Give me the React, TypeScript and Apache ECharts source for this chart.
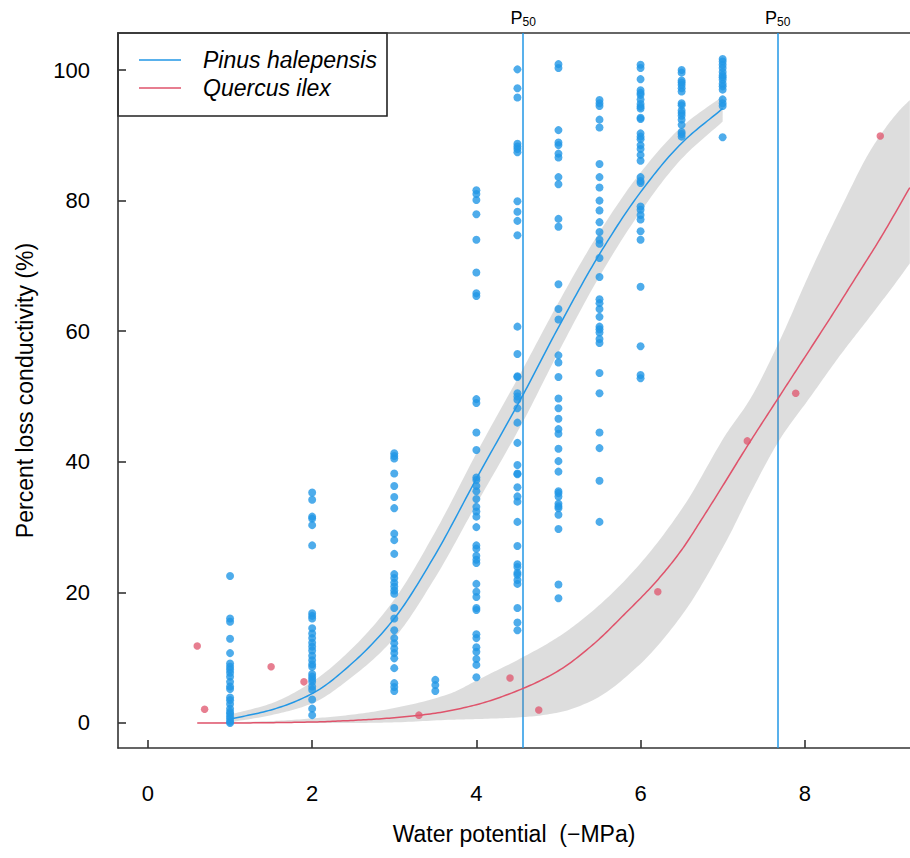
import React, { useEffect, useRef } from "react";
import * as echarts from "echarts";

const BLUE = "#2297E6";
const RED = "#DF536B";
const BAND = "rgba(128,128,128,0.27)";
const FONT = "'Liberation Sans', Arial, Helvetica, sans-serif";

const xTicks = [0, 2, 4, 6, 8];
const yTicks = [0, 20, 40, 60, 80, 100];

// Pinus halepensis observations: water potential (-MPa) columns and PLC (%) values
const pinusWP = [1, 2, 3, 3.5, 4, 4.5, 5, 5.5, 6, 6.5, 7];
const pinusAt1 = [22.5, 16.0, 15.5, 12.9, 10.7, 9.1, 8.6, 8.2, 7.7, 7.1, 6.3, 5.6, 5.2, 3.9, 3.5, 2.9, 2.2, 1.7, 1.4, 1.0, 0.6, 0.2, 0.0];
const pinusAt2 = [35.3, 34.2, 31.6, 31.3, 30.3, 27.2, 16.8, 16.4, 16.0, 14.5, 13.7, 13.0, 12.3, 11.7, 11.1, 10.3, 9.6, 9.0, 8.6, 7.5, 7.1, 6.7, 6.3, 5.6, 5.1, 3.6, 2.2, 1.2];
const pinusAt3 = [41.3, 40.9, 40.5, 38.2, 36.3, 34.6, 32.9, 29.0, 28.0, 25.9, 22.8, 22.2, 21.5, 20.9, 20.3, 19.8, 17.6, 16.0, 14.2, 13.0, 12.2, 11.4, 10.7, 9.9, 8.4, 6.1, 5.5, 4.9];
const pinusAt3_5 = [6.6, 5.8, 4.9];
const pinusAt4 = [81.6, 81.0, 80.1, 77.9, 74.0, 69.0, 65.8, 65.4, 49.6, 49.0, 44.5, 41.8, 37.6, 37.2, 36.3, 35.5, 34.3, 33.1, 32.4, 31.6, 30.0, 27.2, 26.7, 25.6, 25.0, 24.5, 21.3, 20.1, 19.3, 17.6, 17.3, 13.6, 13.0, 11.6, 10.9, 9.8, 8.9, 7.0];
const pinusAt4_5 = [100.1, 97.2, 95.8, 88.7, 88.3, 87.9, 87.4, 79.9, 78.3, 76.9, 74.7, 60.7, 56.5, 53.1, 53.0, 50.5, 50.0, 49.5, 48.2, 46.0, 42.9, 39.5, 38.2, 38.1, 36.1, 34.7, 33.9, 30.8, 27.1, 24.3, 23.9, 23.0, 22.7, 21.9, 21.3, 17.6, 15.4, 14.2];
const pinusAt5 = [100.9, 100.3, 90.8, 88.9, 88.5, 87.2, 86.6, 83.6, 82.5, 77.2, 76.0, 67.2, 63.4, 61.8, 56.3, 55.2, 53.0, 49.7, 48.2, 46.6, 45.0, 44.3, 42.0, 40.1, 38.5, 35.5, 35.2, 34.7, 33.6, 33.2, 32.9, 31.9, 29.7, 21.2, 19.1];
const pinusAt5_5 = [95.4, 94.9, 94.5, 92.4, 91.2, 85.6, 83.6, 82.0, 80.0, 78.5, 76.7, 75.2, 74.0, 73.4, 71.2, 68.3, 64.9, 64.3, 63.4, 62.2, 60.7, 60.3, 59.8, 58.8, 58.2, 53.6, 50.5, 44.5, 42.1, 37.1, 30.8];
const pinusAt6 = [100.8, 100.3, 98.6, 96.9, 96.5, 96.2, 95.5, 94.8, 94.4, 94.1, 92.7, 92.5, 90.3, 89.8, 89.4, 88.5, 87.9, 87.0, 86.1, 83.6, 83.0, 82.7, 79.1, 78.6, 77.8, 77.1, 75.3, 74.0, 66.8, 57.7, 53.3, 52.8];
const pinusAt6_5 = [100.0, 99.6, 98.4, 98.1, 97.7, 97.2, 96.7, 94.9, 94.6, 93.8, 93.4, 93.0, 92.4, 91.6, 90.5, 90.2, 89.8];
const pinusAt7 = [101.7, 101.3, 100.8, 100.3, 99.7, 99.2, 98.9, 98.5, 97.9, 97.5, 97.0, 95.5, 94.9, 94.5, 89.7];
const pinusPLC = [pinusAt1, pinusAt2, pinusAt3, pinusAt3_5, pinusAt4, pinusAt4_5, pinusAt5, pinusAt5_5, pinusAt6, pinusAt6_5, pinusAt7];

// Pinus fitted curve and confidence band
const pinusFitWP = [1, 1.5, 2, 2.5, 3, 3.5, 4, 4.57, 5, 5.5, 6, 6.5, 7];
const pinusFit = [0.6, 2.0, 4.5, 9.3, 16.0, 25.8, 37.4, 50.3, 60.6, 71.8, 81.3, 88.8, 94.1];
const pinusLow = [0.1, 1.2, 3.0, 7.2, 13.0, 22.3, 33.5, 46.2, 56.8, 68.4, 78.3, 86.4, 92.1];
const pinusHigh = [1.3, 3.0, 6.3, 11.6, 18.9, 29.3, 41.3, 54.3, 64.4, 75.2, 84.3, 91.3, 96.0];

// Quercus ilex observations
const quercusWP = [0.6, 0.69, 1.5, 1.9, 3.3, 4.41, 4.76, 6.21, 7.3, 7.89, 8.92];
const quercusPLC = [11.8, 2.1, 8.6, 6.3, 1.2, 6.9, 2.0, 20.1, 43.2, 50.5, 89.9];

// Quercus fitted curve
const quercusFitWP = [0.6, 1, 1.5, 2, 2.5, 3, 3.5, 4, 4.57, 5, 5.42, 5.8, 6.2, 6.5, 6.76, 7, 7.3, 7.69, 8, 8.35, 8.6, 8.92, 9.28];
const quercusFit = [0, 0, 0.05, 0.15, 0.4, 0.8, 1.5, 2.8, 5.3, 8.0, 12.0, 16.6, 21.8, 26.5, 31.5, 36.3, 42.4, 50.0, 56.0, 62.8, 67.8, 74.2, 82.0];

// Quercus confidence band
const quercusBandWP = [0.6, 1.5, 2, 2.5, 3, 3.7, 4, 4.57, 5, 5.42, 5.96, 6.52, 7.05, 7.33, 7.7, 8.06, 8.43, 8.83, 9.16, 9.28];
const quercusLow = [0, 0, 0, 0, 0.1, 0.5, 0.6, 0.9, 1.6, 3.5, 8.6, 16.8, 28.0, 35.0, 43.5, 49.8, 56.3, 62.8, 68.3, 70.4];
const quercusHigh = [0, 0.3, 0.7, 1.3, 2.3, 4.6, 6.5, 10.1, 13.2, 17.2, 23.9, 33.1, 44.4, 49.5, 58.7, 68.9, 78.6, 88.3, 93.9, 95.4];

// P50 values
const p50Pinus = 4.57;
const p50Quercus = 7.67;

const legendNames = ["Pinus halepensis", "Quercus ilex"];

// monotone cubic smoothing of pixel points (rendering only)
function smoothPixels(pts: number[][]): number[][] {
  const n = pts.length;
  if (n < 3) return pts;
  const dx: number[] = [];
  const m: number[] = [];
  for (let i = 0; i < n - 1; i++) {
    dx.push(pts[i + 1][0] - pts[i][0]);
    m.push((pts[i + 1][1] - pts[i][1]) / (pts[i + 1][0] - pts[i][0] || 1e-6));
  }
  const t: number[] = [m[0]];
  for (let i = 1; i < n - 1; i++) {
    if (m[i - 1] * m[i] <= 0) t.push(0);
    else {
      const w1 = 2 * dx[i] + dx[i - 1];
      const w2 = dx[i] + 2 * dx[i - 1];
      t.push((w1 + w2) / (w1 / m[i - 1] + w2 / m[i]));
    }
  }
  t.push(m[n - 2]);
  const out: number[][] = [];
  const steps = 16;
  for (let i = 0; i < n - 1; i++) {
    const x0 = pts[i][0], y0 = pts[i][1], h = dx[i];
    for (let s = 0; s < steps; s++) {
      const u = s / steps;
      const h00 = 2 * u * u * u - 3 * u * u + 1;
      const h10 = u * u * u - 2 * u * u + u;
      const h01 = -2 * u * u * u + 3 * u * u;
      const h11 = u * u * u - u * u;
      out.push([x0 + u * h, h00 * y0 + h10 * h * t[i] + h01 * pts[i + 1][1] + h11 * h * t[i + 1]]);
    }
  }
  out.push(pts[n - 1]);
  return out;
}

export default function App() {
  const ref = useRef<HTMLDivElement>(null);

  useEffect(() => {
    if (!ref.current) return;
    const chart = echarts.init(ref.current, undefined, { renderer: "svg" });

    const pinusPoints: number[][] = [];
    pinusWP.forEach((x, i) => pinusPLC[i].forEach((y) => pinusPoints.push([x, y])));
    const quercusPoints = quercusWP.map((x, i) => [x, quercusPLC[i]]);

    const bandSeries = (xs: number[], lo: number[], hi: number[]) => ({
      type: "custom",
      coordinateSystem: "cartesian2d",
      data: [[xs[0], lo[0]]],
      clip: true,
      silent: true,
      z: 2,
      renderItem: (_params: any, api: any) => {
        const up = xs.map((x, i) => api.coord([x, hi[i]]));
        const dn = xs.map((x, i) => api.coord([x, lo[i]]));
        const points = [...smoothPixels(up), ...smoothPixels(dn).reverse()];
        return {
          type: "polygon",
          shape: { points },
          style: { fill: BAND, stroke: "none" },
          silent: true,
        };
      },
    });

    const curveSeries = (name: string, xs: number[], ys: number[], color: string) => ({
      type: "custom",
      name,
      coordinateSystem: "cartesian2d",
      data: [[xs[0], ys[0]]],
      clip: true,
      silent: true,
      z: 3,
      renderItem: (_params: any, api: any) => {
        const pts = xs.map((x, i) => api.coord([x, ys[i]]));
        return {
          type: "polyline",
          shape: { points: smoothPixels(pts) },
          style: { stroke: color, lineWidth: 1.5, fill: "none" },
          silent: true,
        };
      },
    });

    const axisLineStyle = { color: "#333", width: 1.6 };

    chart.setOption({
      animation: false,
      textStyle: { fontFamily: FONT },
      grid: { left: 118, right: 0, top: 33, bottom: 110, containLabel: false },
      xAxis: [
        {
          type: "value",
          min: -0.365,
          max: 9.282,
          axisLine: { show: true, onZero: false, lineStyle: axisLineStyle },
          axisTick: { show: true, inside: true, length: 8, customValues: xTicks, lineStyle: axisLineStyle },
          axisLabel: { customValues: xTicks, margin: 34, fontSize: 22, color: "#000", fontFamily: FONT },
          splitLine: { show: false },
          name: "Water potential  (\u2212MPa)",
          nameLocation: "middle",
          nameGap: 74,
          nameTextStyle: { fontSize: 23, color: "#000", fontFamily: FONT },
        },
        {
          type: "value",
          position: "top",
          min: -0.365,
          max: 9.282,
          axisLine: { show: true, onZero: false, lineStyle: axisLineStyle },
          axisTick: { show: false },
          axisLabel: { show: false },
          splitLine: { show: false },
        },
      ],
      yAxis: {
        type: "value",
        min: -3.83,
        max: 105.67,
        axisLine: { show: true, onZero: false, lineStyle: axisLineStyle },
        axisTick: { show: true, inside: true, length: 8, customValues: yTicks, lineStyle: axisLineStyle },
        axisLabel: { customValues: yTicks, margin: 28, fontSize: 22, color: "#000", fontFamily: FONT },
        splitLine: { show: false },
        name: "Percent loss conductivity (%)",
        nameLocation: "middle",
        nameGap: 82,
        nameTextStyle: { fontSize: 23, color: "#000", fontFamily: FONT },
      },
      series: [
        bandSeries(pinusFitWP, pinusLow, pinusHigh),
        bandSeries(quercusBandWP, quercusLow, quercusHigh),
        curveSeries(legendNames[0], pinusFitWP, pinusFit, BLUE),
        curveSeries(legendNames[1], quercusFitWP, quercusFit, RED),
        {
          type: "scatter",
          data: pinusPoints,
          symbolSize: 8,
          itemStyle: { color: BLUE, opacity: 0.8 },
          silent: true,
          z: 4,
          markLine: {
            z: 1,
            silent: true,
            symbol: ["none", "none"],
            lineStyle: { color: BLUE, width: 1.5, type: "solid" },
            label: {
              show: true,
              position: "end",
              distance: 5,
              formatter: "{p|P}{s|50}",
              rich: {
                p: { fontSize: 18, color: "#000", fontFamily: FONT },
                s: { fontSize: 12, color: "#000", fontFamily: FONT, padding: [8, 0, 0, 0] },
              },
            },
            data: [{ xAxis: p50Pinus }, { xAxis: p50Quercus }],
          },
        },
        {
          type: "scatter",
          data: quercusPoints,
          symbolSize: 7.5,
          itemStyle: { color: RED, opacity: 0.75 },
          silent: true,
          z: 4,
        },
      ],
      graphic: [
        {
          type: "rect",
          shape: { x: 118, y: 33, width: 269, height: 83 },
          style: { fill: "none", stroke: "#222", lineWidth: 1.6 },
          silent: true,
        },
        {
          type: "line",
          shape: { x1: 139, y1: 60, x2: 181, y2: 60 },
          style: { stroke: BLUE, lineWidth: 1.5 },
        },
        {
          type: "line",
          shape: { x1: 139, y1: 88, x2: 181, y2: 88 },
          style: { stroke: RED, lineWidth: 1.5 },
        },
        {
          type: "text",
          x: 203,
          y: 60,
          style: { text: legendNames[0], font: `italic 23px ${FONT}`, fill: "#000", verticalAlign: "middle" },
        },
        {
          type: "text",
          x: 203,
          y: 88,
          style: { text: legendNames[1], font: `italic 23px ${FONT}`, fill: "#000", verticalAlign: "middle" },
        },
      ],
    });

    return () => chart.dispose();
  }, []);

  return (
    <div
      ref={ref}
      style={{ position: "absolute", left: 0, top: 0, width: 910, height: 858, background: "#fff" }}
    />
  );
}
